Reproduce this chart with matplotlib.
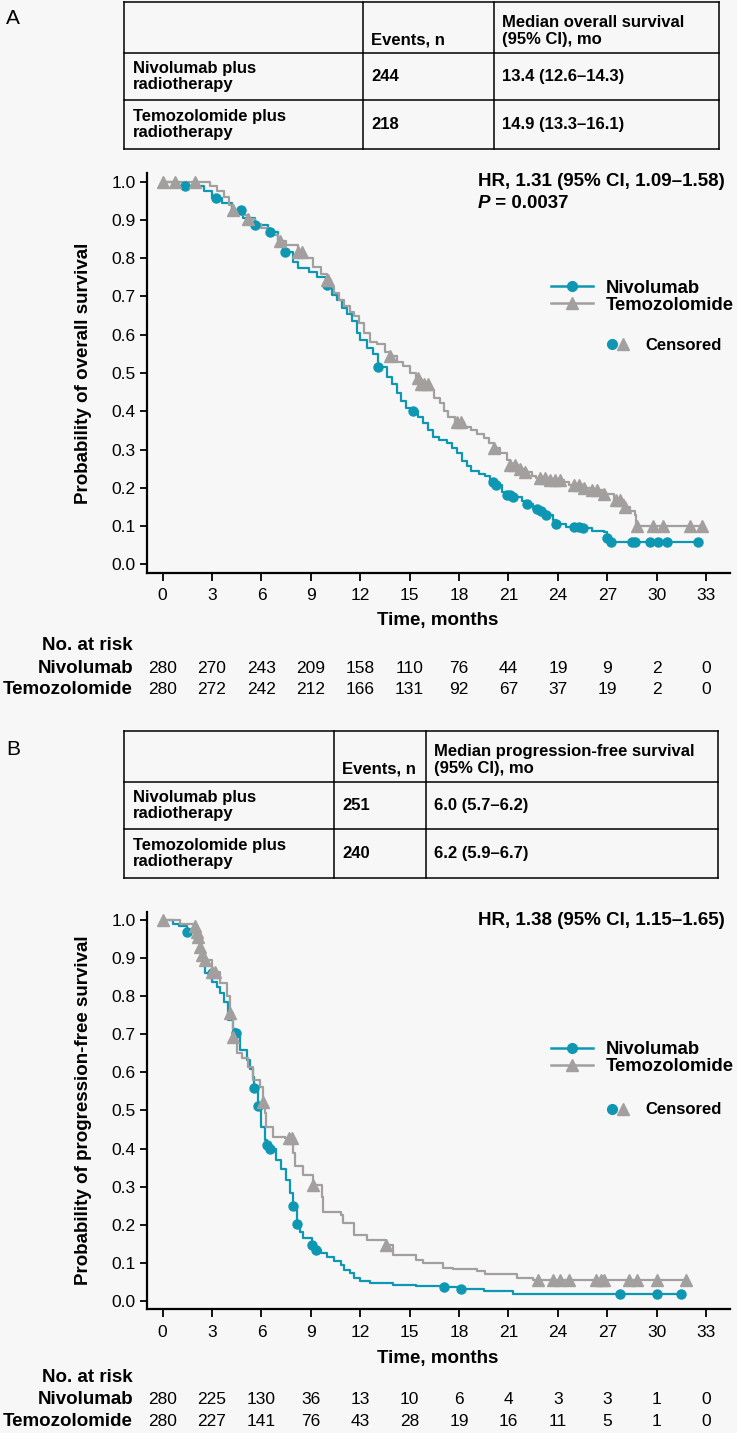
import numpy as np
import matplotlib
matplotlib.use("Agg")
from matplotlib import pyplot as plt
from matplotlib import transforms
from matplotlib.lines import Line2D
from matplotlib.legend_handler import HandlerTuple

W, H = 737, 1433
TEAL = "#0e97b2"
GRAY = "#a39f9f"
BG = "#f7f7f7"

plt.rcParams["font.family"] = ["Liberation Sans", "DejaVu Sans"]

# ---------------- data: panel A (overall survival) ----------------
os_niv_t = [0, 1.0, 2.5, 3.0, 3.6, 4.2, 4.9, 5.6, 6.4, 7.0, 7.3, 7.9, 8.2, 8.9, 9.4, 9.9,
            10.3, 10.6, 10.9, 11.2, 11.5, 11.8, 12.0, 12.4, 12.8, 13.1, 13.6, 13.9, 14.2,
            14.5, 14.8, 15.1, 15.5, 15.8, 16.1, 16.4, 16.8, 17.25, 17.6, 17.9, 18.2, 18.5,
            18.7, 19.2, 19.6, 19.9, 20.1, 20.6, 20.9, 21.3, 21.8, 22.1, 22.5, 22.8, 23.3,
            23.7, 23.9, 24.5, 25.5, 26.1, 26.8, 27.0, 27.1, 32.5]
os_niv_s = [1.0, 0.988, 0.975, 0.958, 0.945, 0.926, 0.905, 0.888, 0.868, 0.845, 0.815, 0.79,
            0.775, 0.765, 0.75, 0.73, 0.705, 0.69, 0.67, 0.655, 0.635, 0.605, 0.587, 0.565,
            0.55, 0.515, 0.49, 0.47, 0.447, 0.428, 0.408, 0.4, 0.385, 0.369, 0.35, 0.334,
            0.325, 0.318, 0.305, 0.292, 0.27, 0.256, 0.245, 0.237, 0.232, 0.215, 0.207, 0.19,
            0.182, 0.175, 0.165, 0.157, 0.145, 0.138, 0.13, 0.115, 0.106, 0.098, 0.094,
            0.088, 0.085, 0.068, 0.059, 0.059]
os_niv_cens = [1.35, 3.25, 4.75, 5.6, 6.5, 7.45, 10.0, 13.1, 15.2, 20.05, 20.25, 20.9, 21.1,
               21.3, 22.1, 22.75, 23.0, 23.3, 23.9, 24.95, 25.3, 25.5, 27.0, 27.2, 28.5,
               28.7, 29.6, 30.1, 30.65, 32.5]

os_tmz_t = [0, 2.9, 3.3, 3.7, 4.0, 4.3, 4.8, 5.2, 5.6, 6.0, 6.5, 7.0, 7.5, 8.2, 8.6, 9.1, 9.6,
            9.95, 10.2, 10.4, 10.7, 11.0, 11.4, 11.6, 11.9, 12.2, 12.6, 13.0, 13.5, 13.8,
            14.2, 14.6, 15.0, 15.4, 15.7, 16.2, 16.5, 16.85, 17.1, 17.35, 17.75, 18.3, 18.7,
            19.1, 19.5, 19.8, 20.1, 20.5, 20.9, 21.1, 21.6, 22.0, 22.4, 22.7, 23.5, 24.4,
            24.7, 25.5, 26.0, 26.8, 27.4, 28.0, 28.4, 28.7, 28.75, 32.75]
os_tmz_s = [1.0, 0.99, 0.975, 0.96, 0.94, 0.926, 0.912, 0.902, 0.89, 0.878, 0.862, 0.845,
            0.835, 0.817, 0.8, 0.778, 0.76, 0.743, 0.725, 0.709, 0.69, 0.674, 0.66, 0.648,
            0.63, 0.605, 0.582, 0.575, 0.555, 0.545, 0.53, 0.517, 0.5, 0.487, 0.47, 0.455,
            0.435, 0.421, 0.4, 0.386, 0.373, 0.36, 0.352, 0.34, 0.33, 0.318, 0.304, 0.29,
            0.273, 0.26, 0.25, 0.24, 0.232, 0.226, 0.22, 0.215, 0.208, 0.2, 0.195, 0.185,
            0.169, 0.15, 0.14, 0.13, 0.1, 0.1]
os_tmz_cens = [0.0, 0.76, 1.97, 4.3, 5.2, 7.1, 8.2, 8.45, 9.95, 10.05, 13.8, 15.5, 15.7,
               15.9, 16.1, 17.9, 18.1, 20.1, 21.1, 21.4, 21.7, 22.0, 22.9, 23.2, 23.5, 23.8,
               24.1, 25.0, 25.3, 25.6, 26.1, 26.4, 26.8, 27.5, 27.8, 28.1, 28.8, 29.8, 30.4,
               32.0, 32.75]

# ---------------- data: panel B (progression-free survival) ----------------
pfs_niv_t = [0, 0.6, 1.0, 1.5, 2.0, 2.27, 2.47, 2.6, 3.0, 3.3, 3.5, 3.7, 3.99, 4.3, 4.45, 4.7,
             5.1, 5.3, 5.5, 5.57, 5.8, 6.0, 6.2, 6.35, 6.5, 6.9, 7.2, 7.5, 7.73, 7.9, 8.14,
             8.35, 8.54, 9.05, 9.3, 9.6, 9.96, 10.4, 10.8, 11.0, 11.4, 11.6, 12.0, 12.6, 14.0,
             15.4, 17.1, 18.1, 19.5, 21.3, 31.5]
pfs_niv_s = [1.0, 0.99, 0.985, 0.969, 0.945, 0.921, 0.882, 0.86, 0.838, 0.825, 0.808, 0.785,
             0.738, 0.715, 0.704, 0.659, 0.633, 0.61, 0.589, 0.558, 0.512, 0.457, 0.423, 0.41,
             0.4, 0.37, 0.345, 0.318, 0.283, 0.249, 0.202, 0.18, 0.164, 0.147, 0.134, 0.125,
             0.116, 0.105, 0.094, 0.081, 0.072, 0.059, 0.052, 0.046, 0.043, 0.039, 0.036,
             0.031, 0.025, 0.018, 0.018]
pfs_niv_cens = [1.5, 2.98, 4.45, 5.57, 5.8, 6.35, 6.5, 7.9, 8.14, 9.05, 9.3, 17.1, 18.1,
                27.8, 30.0, 31.5]

pfs_tmz_t = [0, 1.05, 1.96, 2.06, 2.16, 2.27, 2.37, 2.57, 2.98, 3.48, 3.9, 4.09, 4.25, 4.5,
             4.8, 5.2, 5.5, 5.9, 6.1, 6.2, 6.3, 6.7, 7.4, 7.9, 8.04, 8.5, 9.15, 9.66, 9.76,
             10.8, 10.97, 11.6, 12.4, 13.57, 14.0, 15.4, 15.8, 17.05, 17.65, 19.1, 19.6, 21.5,
             22.5, 31.8]
pfs_tmz_s = [1.0, 0.99, 0.984, 0.969, 0.956, 0.93, 0.908, 0.895, 0.864, 0.834, 0.8, 0.755,
             0.692, 0.65, 0.637, 0.615, 0.58, 0.562, 0.523, 0.493, 0.457, 0.431, 0.427, 0.388,
             0.353, 0.331, 0.304, 0.274, 0.234, 0.226, 0.204, 0.173, 0.16, 0.147, 0.121,
             0.108, 0.1, 0.087, 0.083, 0.078, 0.07, 0.06, 0.055, 0.055]
pfs_tmz_cens = [0.0, 1.96, 2.06, 2.16, 2.27, 2.37, 2.57, 2.98, 3.18, 4.09, 4.25, 6.1, 7.7,
                7.85, 9.15, 13.57, 22.8, 23.7, 24.1, 24.7, 26.3, 26.6, 26.8, 28.3, 28.8, 30.0,
                31.8]

# ---------------- numbers at risk / tables ----------------
risk_months = list(range(0, 34, 3))
os_risk_niv = [280, 270, 243, 209, 158, 110, 76, 44, 19, 9, 2, 0]
os_risk_tmz = [280, 272, 242, 212, 166, 131, 92, 67, 37, 19, 2, 0]
pfs_risk_niv = [280, 225, 130, 36, 13, 10, 6, 4, 3, 3, 1, 0]
pfs_risk_tmz = [280, 227, 141, 76, 43, 28, 19, 16, 11, 5, 1, 0]

arm_labels = ["Nivolumab plus\nradiotherapy", "Temozolomide plus\nradiotherapy"]
os_events = ["244", "218"]
os_median = ["13.4 (12.6–14.3)", "14.9 (13.3–16.1)"]
pfs_events = ["251", "240"]
pfs_median = ["6.0 (5.7–6.2)", "6.2 (5.9–6.7)"]


fig = plt.figure(figsize=(W / 100, H / 100), dpi=100, facecolor=BG)
# full-figure layer in pixel units for tables and loose text
lay = fig.add_axes([0, 0, 1, 1])
lay.set_xlim(0, W)
lay.set_ylim(H, 0)
lay.axis("off")


def draw_table(top, bottom, row_lines, cols, header3, events, medians):
    left, c2, c3, right = cols
    kw = dict(color="black", lw=1.1, solid_capstyle="projecting")
    for y in [top] + row_lines + [bottom]:
        lay.plot([left, right], [y, y], **kw)
    for x in cols:
        lay.plot([x, x], [top, bottom], **kw)
    tkw = dict(fontsize=12, fontweight="bold", linespacing=1.15)
    lay.text(c2 + 8, row_lines[0] - 6, "Events, n", va="bottom", **tkw)
    lay.text(c3 + 8, row_lines[0] - 6, header3, va="bottom", **tkw)
    edges = row_lines + [bottom]
    for i in range(2):
        yc = (edges[i] + edges[i + 1]) / 2
        lay.text(left + 9, yc, arm_labels[i], va="center", **tkw)
        lay.text(c2 + 8, yc, events[i], va="center", **tkw)
        lay.text(c3 + 8, yc, medians[i], va="center", **tkw)


def km(ax, t, s, cens, color, marker, ms):
    t = np.asarray(t)
    s = np.asarray(s)
    ax.plot(t, s, drawstyle="steps-post", color=color, lw=1.6, zorder=3)
    idx = np.searchsorted(t, cens, side="right") - 1
    ax.plot(cens, s[idx], ls="none", marker=marker, ms=ms, color=color,
            mec=color, zorder=4)


def panel(top, bottom, curves, ylabel, hr_lines, leg_y, cens_y, risk, xlab_y, risk_y):
    ax = fig.add_axes([146.5 / W, 1 - bottom / H, (730 - 146.5) / W, (bottom - top) / H])
    ax.set_facecolor("none")
    for t, s, c, col, mk, ms in curves:
        km(ax, t, s, c, col, mk, ms)
    ax.set_xlim(-0.98, 34.45)
    ax.set_ylim(-0.022, 1.022)
    ax.set_xticks(risk_months)
    ax.set_yticks(np.round(np.arange(0, 1.01, 0.1), 1))
    ax.yaxis.set_major_formatter(matplotlib.ticker.FormatStrFormatter("%.1f"))
    for sp in ["top", "right"]:
        ax.spines[sp].set_visible(False)
    for sp in ["left", "bottom"]:
        ax.spines[sp].set_linewidth(1.6)
    ax.tick_params(axis="both", length=5, width=1.3, labelsize=12.5, pad=3)
    ax.tick_params(axis="x", length=6, pad=5)

    lay.text(84, (top + bottom) / 2, ylabel, rotation=90, ha="center", va="center",
             fontsize=13.5, fontweight="bold")
    lay.text(438, xlab_y, "Time, months", ha="center", va="center",
             fontsize=13.5, fontweight="bold")

    # hazard ratio annotation
    y0 = top + 8.5
    for i, line in enumerate(hr_lines):
        if line.startswith("P"):
            p = lay.text(478, y0 + 21.5 * i, "P", ha="left", va="center", fontsize=13.5,
                         fontweight="bold", fontstyle="italic")
            lay.annotate(line[1:], xy=(1, 0.5), xycoords=p, va="center", ha="left",
                         fontsize=13.5, fontweight="bold")
        else:
            lay.text(478, y0 + 21.5 * i, line, ha="left", va="center", fontsize=13.5,
                     fontweight="bold")

    # legend
    h_niv = Line2D([], [], color=TEAL, lw=1.8, marker="o", ms=7, mec=TEAL)
    h_tmz = Line2D([], [], color=GRAY, lw=1.8, marker="^", ms=8.5, mec=GRAY)
    leg = ax.legend([h_niv, h_tmz], ["Nivolumab", "Temozolomide"], loc="center left",
                    bbox_to_anchor=(551, leg_y), bbox_transform=lay.transData,
                    frameon=False, borderpad=0, borderaxespad=0, handlelength=2.3,
                    handletextpad=0.65, labelspacing=0.0, numpoints=1,
                    prop=dict(size=13.3, weight="bold"))
    ax.add_artist(leg)
    c_dot = Line2D([], [], ls="none", color=TEAL, marker="o", ms=7, mec=TEAL)
    c_tri = Line2D([], [], ls="none", color=GRAY, marker="^", ms=8.5, mec=GRAY)
    ax.legend([(c_dot, c_tri)], ["Censored"], loc="center left",
              bbox_to_anchor=(607, cens_y), bbox_transform=lay.transData,
              frameon=False, borderpad=0, borderaxespad=0, handlelength=1.25,
              handletextpad=1.05, handler_map={tuple: HandlerTuple(ndivide=None, pad=0)},
              prop=dict(size=12, weight="bold"))

    # numbers at risk
    tr = transforms.blended_transform_factory(ax.transData, lay.transData)
    lay.text(133, risk_y[0], "No. at risk", ha="right", va="center", fontsize=13.5,
             fontweight="bold")
    for name, vals, y in zip(["Nivolumab", "Temozolomide"], risk, risk_y[1:]):
        lay.text(133, y, name, ha="right", va="center", fontsize=13.5, fontweight="bold")
        for m, v in zip(risk_months, vals):
            ax.text(m, y, str(v), transform=tr, ha="center", va="center", fontsize=12.5)
    return ax


# ---------------- panel A ----------------
lay.text(6, 18, "A", ha="left", va="center", fontsize=15,
         family=["Liberation Sans Narrow", "Liberation Sans"])
draw_table(2, 149, [53, 100], [124, 363, 494, 719],
           "Median overall survival\n(95% CI), mo", os_events, os_median)
panel(173.3, 572.7,
      [(os_niv_t, os_niv_s, os_niv_cens, TEAL, "o", 6.5),
       (os_tmz_t, os_tmz_s, os_tmz_cens, GRAY, "^", 8.5)],
      "Probability of overall survival",
      ["HR, 1.31 (95% CI, 1.09–1.58)", "P = 0.0037"],
      296.7, 345, [os_risk_niv, os_risk_tmz], 620, [645, 668, 689])

# ---------------- panel B ----------------
lay.text(6, 749, "B", ha="left", va="center", fontsize=15,
         family=["Liberation Sans Narrow", "Liberation Sans"])
draw_table(731, 878, [782, 829], [124, 334, 426, 718],
           "Median progression-free survival\n(95% CI), mo", pfs_events, pfs_median)
panel(911.6, 1309.3,
      [(pfs_niv_t, pfs_niv_s, pfs_niv_cens, TEAL, "o", 6.5),
       (pfs_tmz_t, pfs_tmz_s, pfs_tmz_cens, GRAY, "^", 8.5)],
      "Probability of progression-free survival",
      ["HR, 1.38 (95% CI, 1.15–1.65)"],
      1058, 1110, [pfs_risk_niv, pfs_risk_tmz], 1359, [1377, 1400, 1422])

fig.savefig("out.png", dpi=100, facecolor=BG)
